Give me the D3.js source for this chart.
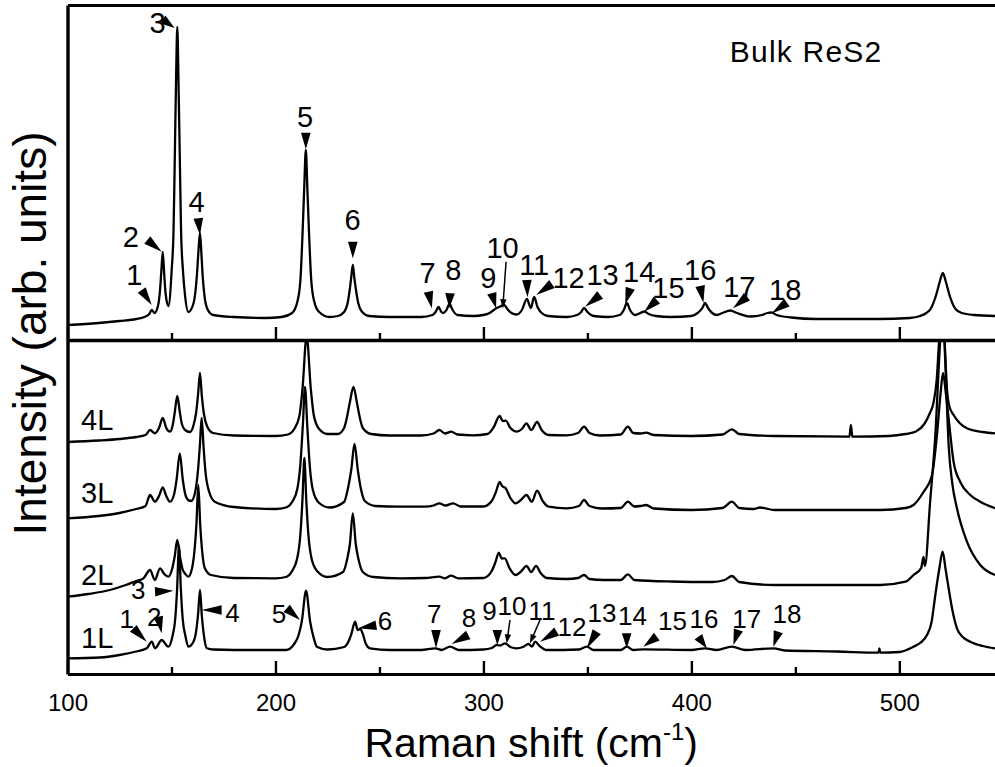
<!DOCTYPE html>
<html><head><meta charset="utf-8">
<script src="https://cdn.jsdelivr.net/npm/d3@7"></script>
<style>
body{margin:0;background:#fff}
svg{display:block}
text{font-family:"Liberation Sans",Arial,Helvetica,sans-serif;fill:#000}
</style>
</head><body>
<svg id="c" width="995" height="767"></svg>
<script>
// ---------------- DATA (x = Raman shift cm^-1, value = intensity, arb. units) ----------------
const bulkSpectrum = [[100,15],[115,17],[125,19],[133,21],[137,23],[139.3,26],[140.5,30],[141.8,27],
[143.5,34],[144.5,50],[145.1,68],[145.8,88],[146.5,66],[147.2,46],[148.5,34],
[150.1,70],[151.0,110],[151.5,170],[152.2,260],[152.8,313],[153.4,255],[154.1,170],[154.6,110],[155.5,70],[156.5,45],[158.1,28],
[160.5,36],[161.7,52],[162.4,70],[163.0,90],[163.7,107],[164.4,86],[165.0,64],[166.0,42],[167.5,30],[170,25],[180,23],[195,22],[203,23],
[208,27],[210.5,38],[212.0,60],[213.0,105],[213.8,150],[214.6,190],[215.4,148],[216.2,104],[217.2,60],[218.7,38],[221,28],[226,23],
[230,24],[233,28],[234.8,38],[235.7,50],[236.4,62],[237.2,75],[238,61],[238.8,49],[239.8,37],[241.7,28],[245,24],
[255,23],[270,23],[275.5,25],[277,28],[278.4,33],[279.8,28],[280.8,27],[282.2,30],[283.7,36],[285.2,30],[287.5,25],[295,24],[300,25],
[303,27],[305,30],[306.4,32],[307.5,33],[310,35],[311.5,31],[313.5,27],[316,25.5],
[318.5,30],[320.9,41],[322.8,32],[324.4,43],[326,33],[328,27],[331,24],
[340,23],[345,25],[347,28],[348.4,32],[350,28],[353,24],[360,23],
[365.5,25],[367.5,30],[369,37],[370.5,30],[373,25],[375.5,27],[377.4,28.5],[379.5,26],[383,24],[390,23],
[400,24],[403,27],[405.3,32],[406.6,37],[408,32],[410,27],[412.3,25],[415,27],[418.7,29.5],[422,27],[428.3,23.5],
[434,25],[436.5,27],[438.7,27.5],[441,25],[448,22.5],[460,21],[490,21],[505,22],
[510,24],[513,27],[515,31],[517.7,45],[519.4,58],[520.9,67],[522.4,58],[524.1,45],[527,31],[530,27],[536,25],[546,24]];

const spectrum4L = [[100,232],[115,233.5],[125,235],[133,237],[137.5,239],[139.7,244],[142,240.7],[144,246],[145.8,256],[147.5,246],[149.3,242.3],
[150.7,250],[151.6,262],[152.8,278],[154,262],[155,250],[156.5,244],[158.9,242],
[160.5,248],[161.9,262],[162.8,280],[163.7,301],[164.6,278],[165.6,260],[167.3,247],[170,241],[180,238.5],[200,238],[206,239.5],
[209,245],[211.5,258],[213,285],[215,338],[217,285],[218.5,258],[221,245],[225,240],[230,240],
[233,246],[234.5,258],[235.8,272],[237.5,287],[239.2,271],[240.5,257],[242,246],[246,240],[255,238.5],
[270,238.5],[276,240.5],[278.8,244],[281.5,240.5],[284.5,242.3],[287.5,239.5],[295,238.7],[302,240],
[305,247],[307.8,258],[309.3,253],[310.7,253.3],[313,246],[316,242.3],[318.5,245],[320.7,250.7],[323,244],[325.8,252],[328,244],[331.4,239],
[340,238.7],[345.5,241],[348.4,247.3],[351,241],[356,238.5],[366,239.5],[369.5,247.3],[372,241],[375.5,240.5],[378.2,241.3],[382,239],
[400,238],[415,239.5],[419.5,244.7],[423,240],[440,238],[476,237.3],[476.7,249],[477.4,237.3],
[495,238],[503,240],[508,242.5],[512,250],[514.5,260],[516.5,272],[518,295],[519.2,336],[520.5,370],[521.7,336],[522.9,285],[524,268],[526.1,259],[529,251],[532.5,245.7],[540,242],[546,240.7]];

const spectrum3L = [[100,155.7],[115,158],[125,161],[133,165],[137.5,168],[139.7,179],[142,172.3],[144,178],[145.8,186.7],[147.5,178],[149.3,172.3],
[151.3,180],[152.5,195],[154,220.7],[155.4,195],[156.6,180],[158,174],[159.5,173],
[161.4,182],[162.8,205],[163.7,230],[164.5,256],[165.4,228],[166.3,203],[168,183],[171,172],[180,167],[200,165],[205,166.5],
[208,172],[210.5,185],[212,210],[213.2,250],[214.2,287],[215.3,248],[216.5,208],[218,184],[221,171],[226,166.5],
[233,172],[235,187],[236.5,205],[238,230],[239.6,204],[241,186],[243,173],[248,168],[260,167.3],
[272,167.3],[276,168.5],[278.8,170.7],[281.8,168.5],[285.4,170.7],[289,167.5],[300,167.5],
[304,173],[306,182],[307.8,192],[309,188],[310.7,185.7],[313,176],[315.4,170.7],[318,174],[320.7,179],[323.3,172.3],[325.8,183.3],[328.5,173],[331.4,167.3],
[340,165.7],[346,168],[348.4,174],[351,168],[357,165.5],[366,166],[369.5,172.3],[372.5,167.5],[375.5,168],[378.2,169],[382,165.5],
[400,164],[415,166],[419.5,172.3],[423,166],[430,165],[433,166.5],[440,164],[470,164],[490.8,164],[503,166],[506.8,169],
[511.6,182],[515.7,199],[518.1,239],[519.8,280],[521,301],[522.3,282],[523.7,255.7],[526.1,212],[529.3,192],[534.1,179],[538.9,172.3],[546,165.7]];

const spectrum2L = [[100,77.3],[110,80],[120.4,84],[128,89],[133,93],[136.5,95.7],[139.7,104],[142,94],[144.5,105.7],[146.5,100],[148.5,97.3],
[150.3,105],[151.5,117],[152.8,134],[154.1,117],[155.3,105],[156.7,100],[158.1,97.3],
[159.8,105],[161,122],[162,150],[162.9,189],[163.8,150],[164.8,122],[166,106],[169,99],[180,96],[200,95.7],[205,97],
[208,103],[210.5,116],[212,140],[213,175],[213.9,216],[214.8,175],[215.8,140],[217.3,116],[220,103],[225,97],
[232.5,102],[234.5,115],[235.8,130],[237.2,160.7],[238.6,130],[239.9,115],[242,102],[247,97],[260,95.7],
[272,96],[278.8,97.3],[281.5,95.7],[284.4,98.3],[288,95.7],[300,96],
[304,103],[305.8,112],[307.4,121.3],[308.8,115.5],[310.3,115.7],[312.5,106],[315.4,99],[318.3,103],[320.7,108],[323,102],[325.3,108],[327.5,101],[330.5,96],
[340,95],[345.5,96],[348.4,99],[351,95],[358,94],[366,94],[369.5,99.7],[372.5,94],[390,92.5],[410,92],[416,94],[419.5,98],[423,92],[440,89],[470,89],[490.8,89],
[503,92.3],[506.8,99],[510.5,106],[511.6,117],[512.3,108],[514.8,172],[517.3,239],[519.7,335],[520.9,365],[522.2,306],[523.7,229],[525.5,190],[527.7,165.7],[532.5,132.3],[538.9,109],[546,99]];

const spectrum1L = [[100,15.7],[115.6,16.5],[125,19],[133,22.5],[138.1,25.7],[140.5,32.3],[142.1,25.7],[145.3,34],[148.5,27.3],
[150.5,38],[151.8,55],[152.7,85],[153.6,128],[154.5,85],[155.4,55],[156.7,38],[158.1,27.3],
[160.5,32],[161.8,42],[162.8,60],[163.7,84],[164.6,58],[165.5,40],[167,25.7],[170,24.5],[190,24],[205,24],
[209,30],[211,38],[212.7,53],[214.7,83.3],[216.7,52],[218.4,36],[219.9,27.3],[225,24.5],
[233,27],[235,32],[236.5,40],[238.3,52.3],[239.5,44],[240.8,45],[242,40],[243.5,30],[245.5,25.7],[255,24],
[270,24],[276.8,25.7],[280,24],[284,27.3],[288,24],[300,24.5],[304,26],[306.4,29],[308,28.5],[310.4,30.7],[313,27],[316,25.7],[319,27],[321.7,30],[323.3,27.3],[324.9,32.3],[327,28],[330.5,24],
[346,24.5],[349.7,27.3],[353,24],[366,24],[369,27.3],[372,24],[377,24.7],[400,24],[406.6,25.7],[412,24],[419.4,27.3],[426,24],[439.5,25.7],[445,23.5],[470,22.5],
[490,21.3],[490.4,25.7],[490.8,21.3],[500,22],[506.8,27.3],[510,31],[513.3,39],[515.5,52],[517.3,79],[519.2,105],[520.8,122.3],[522.3,104],[523.7,85.7],[525.5,64],[527.7,45.7],[530.5,37],[534.1,32.3],[540,28],[546,25.7]];

const layerNames = ["4L","3L","2L","1L"];
const layerSpectra = [spectrum4L, spectrum3L, spectrum2L, spectrum1L];

const peakLabels = ["1","2","3","4","5","6","7","8","9","10","11","12","13","14","15","16","17","18"];
// bulk: peak positions and intensities the markers point at
const bulkPeakX = [140.5,145.3,151.5,163.7,214.6,237.2,275.2,283.6,306.1,309.3,321.2,325.4,348.9,368.2,377.3,405.8,420,438.7];
const bulkPeakV = [35,88.3,312,105,190.7,81.7,31.7,31.7,31.7,31.7,42.7,45,33.3,36,28.3,37.3,31.7,26.7];
// 1L: peak positions and intensities the markers point at
const monoPeakX = [138.1,145.3,150.9,164.5,211.8,239.8,277.2,284.7,306.7,311.2,322.4,327.2,349.7,368.9,376.9,407.4,420.2,439.4];
const monoPeakV = [32.3,40.7,83.3,64,54,45.7,25.7,30,29,30.7,30.7,32.3,25.7,25.7,27.3,25.7,29,27.3];

const xMajorTicks = [100,200,300,400,500];
const xMinorTicks = [150,250,350,450];
const sampleLabel = "Bulk ReS2";
const xTitle = "Raman shift (cm";
const xTitleSup = "-1";
const yTitle = "Intensity (arb. units)";

// ---------------- LAYOUT (pixel offsets of markers/labels) ----------------
const bulkMarkStyle = ["tri","tri","tri","tri","tri","tri","tri","tri","tri","line","tri","tri","tri","tri","tri","tri","tri","tri"];
const bulkTail = [[-10,-15],[-14.4,-11.7],[-12,-8.7],[-1.7,-16.7],[0,-16.6],[0,-16.6],[-3.4,-16.6],[0.7,-15],[-4.3,-15],[3.3,-46.6],[-0.6,-17.3],[15.7,-11],[15,-11.7],[5,-15.7],[12.7,-11.7],[-3.3,-16.7],[14,-11.6],[15,-10.6]];
const bulkText = [[-17.5,-20],[-30.9,-5],[-17,4.7],[-3.3,-23.3],[-0.7,-22.6],[-0.2,-28.3],[-4.2,-25.3],[4,-28.3],[-7.7,-20.3],[-0.2,-50.3],[6.7,-22.3],[32.3,-7],[17.5,-21.7],[14,-22],[24.3,-13.7],[-3.3,-22.7],[6.3,-11.3],[13.3,-13.3]];
const monoMarkStyle = ["tri","tri","tri","tri","tri","tri","tri","tri","tri","line","line","tri","tri","tri","tri","tri","tri","tri"];
const monoTail = [[-13.4,-13.4],[-3.4,-16.6],[-18.3,1],[20,0],[-13.3,-11.7],[18,-3],[0,-18.3],[16.6,-9],[0,-15],[3.3,-23.3],[10,-23.3],[16.7,-10],[10,-16.6],[0,-15],[13.4,-10],[-8.4,-11.6],[5,-15],[5,-15]];
const monoText = [[-20,-13.4],[-7.5,-7.3],[-35,8.5],[30.8,11.7],[-21,3.3],[26.7,1.7],[-1.8,-25],[17.5,-17.3],[-7.8,-25],[5.3,-28.3],[12,-23.3],[32,-5.5],[15.3,-26.6],[5.8,-23.3],[29.2,-16.7],[-2.7,-20],[13.4,-16.7],[13.7,-23.4]];
const layerLabelLevel = [244,170.7,89,25.7];

// ---------------- DRAW ----------------
const svg = d3.select("#c");
const x = d3.scaleLinear().domain([100,546]).range([67.5,995]);
const yTop = d3.scaleLinear().domain([0,335]).range([340,5]);
const yBot = d3.scaleLinear().domain([0,333]).range([674,341]);

const defs = svg.append("defs");
defs.append("clipPath").attr("id","clipTop").append("rect")
  .attr("x",x.range()[0]).attr("y",yTop.range()[1]).attr("width",x.range()[1]-x.range()[0]).attr("height",yTop.range()[0]-yTop.range()[1]);
defs.append("clipPath").attr("id","clipBot").append("rect")
  .attr("x",x.range()[0]).attr("y",yBot.range()[1]).attr("width",x.range()[1]-x.range()[0]).attr("height",yBot.range()[0]-yBot.range()[1]);

const lineTop = d3.line().x(d=>x(d[0])).y(d=>yTop(d[1])).curve(d3.curveMonotoneX);
const lineBot = d3.line().x(d=>x(d[0])).y(d=>yBot(d[1])).curve(d3.curveMonotoneX);

svg.append("g").attr("clip-path","url(#clipTop)").append("path")
  .datum(bulkSpectrum).attr("d",lineTop).attr("fill","none").attr("stroke","#000").attr("stroke-width",2.3).attr("stroke-linejoin","round");

const gBot = svg.append("g").attr("clip-path","url(#clipBot)");
layerSpectra.forEach(s=>{
  gBot.append("path").datum(s).attr("d",lineBot).attr("fill","none").attr("stroke","#000").attr("stroke-width",2.3).attr("stroke-linejoin","round");
});

// axes
function styleAxis(g, w){ g.selectAll(".domain").attr("stroke","#000").attr("stroke-width",w); g.selectAll(".tick line").attr("stroke","#000").attr("stroke-width",2.4); }
const axB = svg.append("g").attr("transform",`translate(0,${yBot.range()[0]})`)
  .call(d3.axisBottom(x).tickValues(xMajorTicks).tickSizeInner(-13).tickSizeOuter(0).tickPadding(20).tickFormat(d3.format("d")));
styleAxis(axB,3.2);
axB.selectAll("text").attr("font-size",24).attr("font-family","Liberation Sans, Arial, sans-serif").attr("fill","#000");
const axBm = svg.append("g").attr("transform",`translate(0,${yBot.range()[0]})`)
  .call(d3.axisBottom(x).tickValues(xMinorTicks).tickSizeInner(-7).tickSizeOuter(0).tickFormat(""));
axBm.select(".domain").remove(); styleAxis(axBm,3);
const axS = svg.append("g").attr("transform",`translate(0,${yTop.range()[0]})`)
  .call(d3.axisBottom(x).tickValues(xMajorTicks).tickSizeInner(-13).tickSizeOuter(0).tickFormat(""));
styleAxis(axS,3.6);
const axSm = svg.append("g").attr("transform",`translate(0,${yTop.range()[0]})`)
  .call(d3.axisBottom(x).tickValues(xMinorTicks).tickSizeInner(-7).tickSizeOuter(0).tickFormat(""));
axSm.select(".domain").remove(); styleAxis(axSm,3);
const axT = svg.append("g").attr("transform",`translate(0,${yTop.range()[1]})`)
  .call(d3.axisTop(x).tickValues([]).tickSizeOuter(0));
styleAxis(axT,3.2);
const yFull = d3.scaleLinear().domain([0,1]).range([yBot.range()[0], yTop.range()[1]]);
const axL = svg.append("g").attr("transform",`translate(${x.range()[0]},0)`)
  .call(d3.axisLeft(yFull).tickValues([]).tickSizeOuter(0));
styleAxis(axL,3.4);

// markers
function marker(g, tip, tail, style){
  const dx = tip[0]-tail[0], dy = tip[1]-tail[1];
  const len = Math.hypot(dx,dy), ux = dx/len, uy = dy/len, nx = -uy, ny = ux;
  if(style==="tri"){
    const w = 4.8;
    g.append("path").attr("d",`M${tip[0]},${tip[1]}L${tail[0]+nx*w},${tail[1]+ny*w}L${tail[0]-nx*w},${tail[1]-ny*w}Z`).attr("fill","#000");
  } else {
    const hl = 9, w = 3.2;
    g.append("line").attr("x1",tail[0]).attr("y1",tail[1]).attr("x2",tip[0]-ux*hl*0.6).attr("y2",tip[1]-uy*hl*0.6).attr("stroke","#000").attr("stroke-width",1.5);
    const bx = tip[0]-ux*hl, by = tip[1]-uy*hl;
    g.append("path").attr("d",`M${tip[0]},${tip[1]}L${bx+nx*w},${by+ny*w}L${bx-nx*w},${by-ny*w}Z`).attr("fill","#000");
  }
}
const gAnn = svg.append("g");
peakLabels.forEach((lab,i)=>{
  const tip = [x(bulkPeakX[i]), yTop(bulkPeakV[i])];
  marker(gAnn, tip, [tip[0]+bulkTail[i][0], tip[1]+bulkTail[i][1]], bulkMarkStyle[i]);
  gAnn.append("text").attr("x",tip[0]+bulkText[i][0]).attr("y",tip[1]+bulkText[i][1]).attr("text-anchor","middle").attr("font-size",29).text(lab);
});
peakLabels.forEach((lab,i)=>{
  const tip = [x(monoPeakX[i]), yBot(monoPeakV[i])];
  marker(gAnn, tip, [tip[0]+monoTail[i][0], tip[1]+monoTail[i][1]], monoMarkStyle[i]);
  gAnn.append("text").attr("x",tip[0]+monoText[i][0]).attr("y",tip[1]+monoText[i][1]).attr("text-anchor","middle").attr("font-size",26).text(lab);
});

// layer labels
layerNames.forEach((n,i)=>{
  svg.append("text").attr("x",x(106.5)).attr("y",yBot(layerLabelLevel[i])).attr("font-size",29).text(n);
});

// sample label
svg.append("text").attr("x",x(418.5)).attr("y",yTop(278)).attr("font-size",30).attr("letter-spacing",1.2).text(sampleLabel);

// axis titles
const xt = svg.append("text").attr("x",(x.range()[0]+x.range()[1])/2).attr("y",757).attr("text-anchor","middle").attr("font-size",41);
xt.append("tspan").text(xTitle);
xt.append("tspan").attr("font-size",24).attr("dy",-17).text(xTitleSup);
xt.append("tspan").attr("dy",17).text(")");

svg.append("text").attr("transform",`translate(46,${(yTop.range()[1]+yBot.range()[0])/2-6}) rotate(-90)`)
  .attr("text-anchor","middle").attr("font-size",46).text(yTitle);
</script>
</body></html>
